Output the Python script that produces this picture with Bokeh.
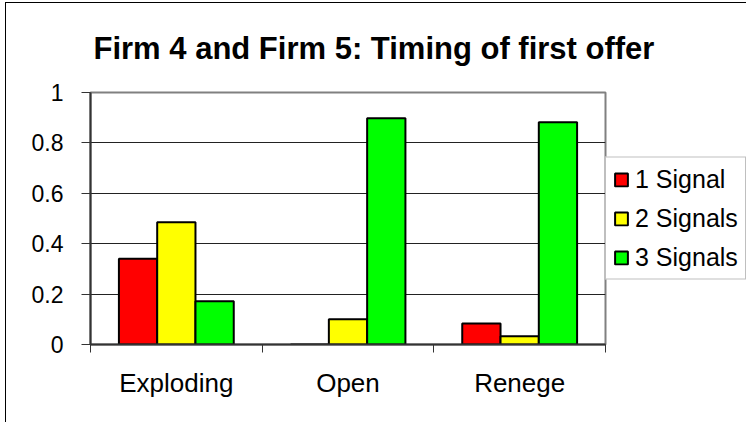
from bokeh.plotting import figure
from bokeh.models import (ColumnDataSource, Range1d, FixedTicker, Legend, LegendItem,
                          CustomJSTickFormatter)
from bokeh.transform import dodge
from bokeh.embed import file_html
from bokeh.resources import INLINE

# ---- data ----
categories = ["Exploding", "Open", "Renege"]
series_names = ["1 Signal", "2 Signals", "3 Signals"]
one_signal = [0.34, 0.0, 0.083]
two_signals = [0.485, 0.10, 0.033]
three_signals = [0.172, 0.898, 0.882]
y_ticks = [0, 0.2, 0.4, 0.6, 0.8, 1]
colors = ["#FF0000", "#FFFF00", "#00FF00"]

FONT = "Liberation Sans"

x_centers = [i + 0.5 for i in range(len(categories))]
source = ColumnDataSource(dict(x=x_centers, s1=one_signal, s2=two_signals, s3=three_signals))

p = figure(frame_width=515, frame_height=252,
           x_range=Range1d(0, len(categories)), y_range=Range1d(0, 1),
           output_backend="svg", toolbar_location=None,
           min_border_left=84, min_border_right=133, min_border_top=89,
           min_border_bottom=78,
           styles={"border-left": "1px solid black", "border-top": "1px solid black",
                   "margin-left": "5px", "margin-top": "2px"})

bw = 0.223
renderers = []
for key, off, col in zip(["s1", "s2", "s3"], [-bw, 0, bw], colors):
    r = p.vbar(x=dodge("x", off, range=p.x_range), top=key, width=bw, bottom=0,
               source=source, fill_color=col, line_color="black", line_width=2)
    renderers.append(r)

# title
p.title.text = "Firm 4 and Firm 5: Timing of first offer"
p.title.text_font = FONT
p.title.text_font_size = "31px"
p.title.text_font_style = "bold"
p.title.text_color = "black"
p.title.align = "left"
p.title.offset = 3
p.title.standoff = 50
p.title.vertical_align = "top"

# frame
p.outline_line_color = "#808080"
p.outline_line_width = 2
p.background_fill_color = "white"
p.border_fill_color = "white"

# y axis
p.yaxis.ticker = FixedTicker(ticks=y_ticks)
p.yaxis.formatter = CustomJSTickFormatter(code="return tick.toFixed(1).replace(/\\.0$/, '');")
p.yaxis.major_label_text_font = FONT
p.yaxis.major_label_text_font_size = "23px"
p.yaxis.major_label_text_color = "black"
p.yaxis.major_tick_out = 9
p.yaxis.major_tick_in = 0
p.yaxis.minor_tick_line_color = None
p.yaxis.axis_line_color = "#333333"
p.yaxis.axis_line_width = 2
p.yaxis.major_tick_line_color = "#333333"
p.yaxis.major_label_standoff = 18

# x axis
p.xaxis.ticker = FixedTicker(ticks=x_centers, minor_ticks=list(range(len(categories) + 1)))
p.xaxis.major_label_overrides = {xc: c for xc, c in zip(x_centers, categories)}
p.xaxis.major_label_text_font = FONT
p.xaxis.major_label_text_font_size = "26px"
p.xaxis.major_label_text_color = "black"
p.xaxis.major_tick_line_color = None
p.xaxis.major_tick_out = 0
p.xaxis.major_tick_in = 0
p.xaxis.minor_tick_out = 8
p.xaxis.minor_tick_in = 0
p.xaxis.minor_tick_line_color = "#333333"
p.xaxis.axis_line_color = "#333333"
p.xaxis.axis_line_width = 2
p.xaxis.major_label_standoff = 15

# grid
p.xgrid.grid_line_color = None
p.ygrid.ticker = FixedTicker(ticks=[t for t in y_ticks if 0 < t < 1])
p.ygrid.grid_line_color = "#222222"
p.ygrid.grid_line_width = 1

legend = Legend(items=[LegendItem(label=n, renderers=[r]) for n, r in zip(series_names, renderers)],
                location="left", margin=0, padding=7, spacing=10,
                glyph_width=16, glyph_height=16, label_height=20, label_standoff=6,
                label_text_font=FONT, label_text_font_size="25px", label_text_color="black",
                border_line_color="#808080", border_line_width=1,
                background_fill_color="white", background_fill_alpha=1)
p.add_layout(legend, "right")

open("out.html", "w").write(file_html(p, INLINE))
